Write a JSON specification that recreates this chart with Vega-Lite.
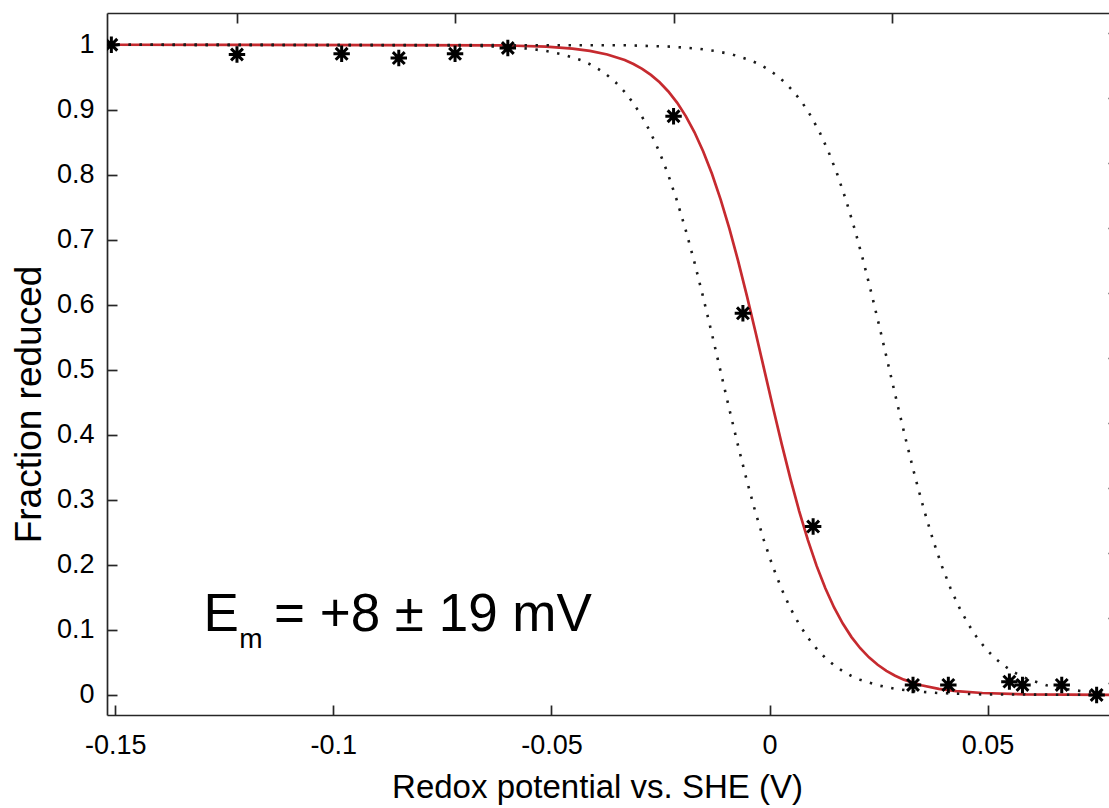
{
  "$schema": "https://vega.github.io/schema/vega-lite/v6.json",
  "width": 1011,
  "height": 702,
  "autosize": {"type": "none"},
  "padding": {"left": 107, "top": 13, "right": -9, "bottom": 93},
  "background": "white",
  "config": {
    "view": {"stroke": null},
    "font": "Liberation Sans",
    "axis": {
      "grid": false,
      "domainColor": "#262626",
      "domainWidth": 1.7,
      "tickColor": "#262626",
      "tickWidth": 1.7,
      "tickSize": -10,
      "labelColor": "black",
      "labelFont": "Liberation Sans",
      "labelFontSize": 27,
      "labelOverlap": false,
      "labelFlush": false,
      "titleFont": "Liberation Sans",
      "titleFontSize": 33,
      "titleFontWeight": "normal",
      "titleColor": "black"
    }
  },
  "datasets": {
    "red": [
      {"E": -0.152, "f": 1.0}, {"E": -0.0612, "f": 0.9991}, {"E": -0.0512, "f": 0.997}, {"E": -0.0452, "f": 0.994},
      {"E": -0.0412, "f": 0.9905}, {"E": -0.0372, "f": 0.985}, {"E": -0.0332, "f": 0.9764}, {"E": -0.0312, "f": 0.9704},
      {"E": -0.0292, "f": 0.9629}, {"E": -0.0272, "f": 0.9536}, {"E": -0.0252, "f": 0.9422}, {"E": -0.0232, "f": 0.9281},
      {"E": -0.0212, "f": 0.911}, {"E": -0.0192, "f": 0.8902}, {"E": -0.0172, "f": 0.8654}, {"E": -0.0152, "f": 0.8359},
      {"E": -0.0132, "f": 0.8015}, {"E": -0.0112, "f": 0.7618}, {"E": -0.0092, "f": 0.7171}, {"E": -0.0072, "f": 0.6677},
      {"E": -0.0052, "f": 0.6142}, {"E": -0.0032, "f": 0.5579}, {"E": -0.0012, "f": 0.5}, {"E": 0.0008, "f": 0.4421},
      {"E": 0.0028, "f": 0.3858}, {"E": 0.0048, "f": 0.3323}, {"E": 0.0068, "f": 0.2829}, {"E": 0.0088, "f": 0.2382},
      {"E": 0.0108, "f": 0.1985}, {"E": 0.0128, "f": 0.1641}, {"E": 0.0148, "f": 0.1346}, {"E": 0.0168, "f": 0.1098},
      {"E": 0.0188, "f": 0.089}, {"E": 0.0208, "f": 0.0719}, {"E": 0.0228, "f": 0.0578}, {"E": 0.0248, "f": 0.0464},
      {"E": 0.0268, "f": 0.0371}, {"E": 0.0288, "f": 0.0296}, {"E": 0.0308, "f": 0.0236}, {"E": 0.0348, "f": 0.015},
      {"E": 0.0388, "f": 0.0095}, {"E": 0.0428, "f": 0.006}, {"E": 0.0488, "f": 0.003}, {"E": 0.0588, "f": 0.0009},
      {"E": 0.08, "f": 0.0}
    ],
    "dotted": [
      {"s": "lo", "E": -0.152, "f": 1.0}, {"s": "lo", "E": -0.0713, "f": 0.9991}, {"s": "lo", "E": -0.0613, "f": 0.997},
      {"s": "lo", "E": -0.0553, "f": 0.994}, {"s": "lo", "E": -0.0513, "f": 0.9905}, {"s": "lo", "E": -0.0473, "f": 0.985},
      {"s": "lo", "E": -0.0433, "f": 0.9764}, {"s": "lo", "E": -0.0413, "f": 0.9704}, {"s": "lo", "E": -0.0393, "f": 0.9629},
      {"s": "lo", "E": -0.0373, "f": 0.9536}, {"s": "lo", "E": -0.0353, "f": 0.9422}, {"s": "lo", "E": -0.0333, "f": 0.9281},
      {"s": "lo", "E": -0.0313, "f": 0.911}, {"s": "lo", "E": -0.0293, "f": 0.8902}, {"s": "lo", "E": -0.0273, "f": 0.8654},
      {"s": "lo", "E": -0.0253, "f": 0.8359}, {"s": "lo", "E": -0.0233, "f": 0.8015}, {"s": "lo", "E": -0.0213, "f": 0.7618},
      {"s": "lo", "E": -0.0193, "f": 0.7171}, {"s": "lo", "E": -0.0173, "f": 0.6677}, {"s": "lo", "E": -0.0153, "f": 0.6142},
      {"s": "lo", "E": -0.0133, "f": 0.5579}, {"s": "lo", "E": -0.0113, "f": 0.5}, {"s": "lo", "E": -0.0093, "f": 0.4421},
      {"s": "lo", "E": -0.0073, "f": 0.3858}, {"s": "lo", "E": -0.0053, "f": 0.3323}, {"s": "lo", "E": -0.0033, "f": 0.2829},
      {"s": "lo", "E": -0.0013, "f": 0.2382}, {"s": "lo", "E": 0.0007, "f": 0.1985}, {"s": "lo", "E": 0.0027, "f": 0.1641},
      {"s": "lo", "E": 0.0047, "f": 0.1346}, {"s": "lo", "E": 0.0067, "f": 0.1098}, {"s": "lo", "E": 0.0087, "f": 0.089},
      {"s": "lo", "E": 0.0107, "f": 0.0719}, {"s": "lo", "E": 0.0127, "f": 0.0578}, {"s": "lo", "E": 0.0147, "f": 0.0464},
      {"s": "lo", "E": 0.0167, "f": 0.0371}, {"s": "lo", "E": 0.0187, "f": 0.0296}, {"s": "lo", "E": 0.0207, "f": 0.0236},
      {"s": "lo", "E": 0.0247, "f": 0.015}, {"s": "lo", "E": 0.0287, "f": 0.0095}, {"s": "lo", "E": 0.0327, "f": 0.006},
      {"s": "lo", "E": 0.0387, "f": 0.003}, {"s": "lo", "E": 0.0487, "f": 0.0009}, {"s": "lo", "E": 0.08, "f": 0.0},
      {"s": "hi", "E": -0.152, "f": 1.0}, {"s": "hi", "E": -0.0325, "f": 0.9991}, {"s": "hi", "E": -0.0225, "f": 0.997},
      {"s": "hi", "E": -0.0165, "f": 0.994}, {"s": "hi", "E": -0.0125, "f": 0.9905}, {"s": "hi", "E": -0.0085, "f": 0.985},
      {"s": "hi", "E": -0.0045, "f": 0.9764}, {"s": "hi", "E": -0.0025, "f": 0.9704}, {"s": "hi", "E": -0.0005, "f": 0.9629},
      {"s": "hi", "E": 0.0015, "f": 0.9536}, {"s": "hi", "E": 0.0035, "f": 0.9422}, {"s": "hi", "E": 0.0055, "f": 0.9281},
      {"s": "hi", "E": 0.0075, "f": 0.911}, {"s": "hi", "E": 0.0095, "f": 0.8902}, {"s": "hi", "E": 0.0115, "f": 0.8654},
      {"s": "hi", "E": 0.0135, "f": 0.8359}, {"s": "hi", "E": 0.0155, "f": 0.8015}, {"s": "hi", "E": 0.0175, "f": 0.7618},
      {"s": "hi", "E": 0.0195, "f": 0.7171}, {"s": "hi", "E": 0.0215, "f": 0.6677}, {"s": "hi", "E": 0.0235, "f": 0.6142},
      {"s": "hi", "E": 0.0255, "f": 0.5579}, {"s": "hi", "E": 0.0275, "f": 0.5}, {"s": "hi", "E": 0.0295, "f": 0.4421},
      {"s": "hi", "E": 0.0315, "f": 0.3858}, {"s": "hi", "E": 0.0335, "f": 0.3323}, {"s": "hi", "E": 0.0355, "f": 0.2829},
      {"s": "hi", "E": 0.0375, "f": 0.2382}, {"s": "hi", "E": 0.0395, "f": 0.1985}, {"s": "hi", "E": 0.0415, "f": 0.1641},
      {"s": "hi", "E": 0.0435, "f": 0.1346}, {"s": "hi", "E": 0.0455, "f": 0.1098}, {"s": "hi", "E": 0.0475, "f": 0.089},
      {"s": "hi", "E": 0.0495, "f": 0.0719}, {"s": "hi", "E": 0.0515, "f": 0.0578}, {"s": "hi", "E": 0.0535, "f": 0.0464},
      {"s": "hi", "E": 0.0555, "f": 0.0371}, {"s": "hi", "E": 0.0575, "f": 0.0296}, {"s": "hi", "E": 0.0595, "f": 0.0236},
      {"s": "hi", "E": 0.0635, "f": 0.015}, {"s": "hi", "E": 0.0675, "f": 0.0095}, {"s": "hi", "E": 0.0715, "f": 0.006},
      {"s": "hi", "E": 0.0775, "f": 0.003}, {"s": "hi", "E": 0.08, "f": 0.0022}
    ],
    "obs": [
      {"E": -0.1509, "f": 1.0}, {"E": -0.1221, "f": 0.985}, {"E": -0.0981, "f": 0.986}, {"E": -0.085, "f": 0.9795},
      {"E": -0.0721, "f": 0.986}, {"E": -0.06, "f": 0.995}, {"E": -0.022, "f": 0.89}, {"E": -0.0061, "f": 0.587},
      {"E": 0.01, "f": 0.259}, {"E": 0.0329, "f": 0.0154}, {"E": 0.041, "f": 0.0154}, {"E": 0.055, "f": 0.0205},
      {"E": 0.058, "f": 0.0154}, {"E": 0.067, "f": 0.0154}, {"E": 0.075, "f": 0.0}
    ],
    "bigtext": [
      {"E": -0.1298, "f": 0.0983, "t": "E"},
      {"E": -0.1136, "f": 0.0983, "t": "= +8 ± 19 mV"}
    ],
    "subtext": [
      {"E": -0.1216, "f": 0.0715, "t": "m"}
    ]
  },
  "layer": [
    {
      "data": {"name": "red"},
      "mark": {"type": "line", "color": "#c62a2f", "strokeWidth": 2.7, "clip": true},
      "encoding": {
        "x": {
          "field": "E", "type": "quantitative",
          "scale": {"domain": [-0.1519, 0.0799], "nice": false, "zero": false},
          "axis": {
            "orient": "bottom",
            "values": [-0.15, -0.1, -0.05, 0, 0.05],
            "labelExpr": "toString(datum.value)",
            "labelPadding": 27,
            "title": "Redox potential vs. SHE (V)",
            "titleX": 490,
            "titleY": 82,
            "titleAlign": "center",
            "titleBaseline": "alphabetic"
          }
        },
        "y": {
          "field": "f", "type": "quantitative",
          "scale": {"domain": [-0.0308, 1.0488], "nice": false, "zero": false},
          "axis": {
            "orient": "left",
            "values": [0, 0.1, 0.2, 0.3, 0.4, 0.5, 0.6, 0.7, 0.8, 0.9, 1],
            "labelExpr": "toString(datum.value)",
            "labelPadding": 23,
            "title": "Fraction reduced",
            "titleFontSize": 37,
            "titleX": -67,
            "titleY": 391,
            "titleAngle": -90,
            "titleAlign": "center",
            "titleBaseline": "alphabetic"
          }
        }
      }
    },
    {
      "data": {"name": "dotted"},
      "mark": {"type": "line", "color": "#1a1a1a", "strokeWidth": 2.6, "strokeDash": [2.4, 8.6], "clip": true},
      "encoding": {
        "detail": {"field": "s"},
        "x": {
          "field": "E", "type": "quantitative",
          "axis": {
            "orient": "top",
            "values": [-0.122, -0.072, -0.022, 0.028, 0.078],
            "labels": false,
            "title": null
          }
        },
        "y": {
          "field": "f", "type": "quantitative",
          "axis": {
            "orient": "right",
            "values": [0.0188, 0.1188, 0.2188, 0.3188, 0.4188, 0.5188, 0.6188, 0.7188, 0.8188, 0.9188, 1.0188],
            "labels": false,
            "title": null
          }
        }
      }
    },
    {
      "data": {"name": "obs"},
      "mark": {
        "type": "point",
        "shape": "M0,-1L0,1M-1,0L1,0M-0.72,-0.72L0.72,0.72M-0.72,0.72L0.72,-0.72",
        "filled": false,
        "stroke": "black",
        "strokeWidth": 3,
        "size": 270,
        "opacity": 1,
        "clip": true
      },
      "encoding": {
        "x": {"field": "E", "type": "quantitative", "axis": null},
        "y": {"field": "f", "type": "quantitative", "axis": null}
      }
    },
    {
      "data": {"name": "bigtext"},
      "mark": {"type": "text", "align": "left", "baseline": "alphabetic", "fontSize": 53, "font": "Liberation Sans", "color": "black"},
      "encoding": {
        "x": {"field": "E", "type": "quantitative", "axis": null},
        "y": {"field": "f", "type": "quantitative", "axis": null},
        "text": {"field": "t"}
      }
    },
    {
      "data": {"name": "subtext"},
      "mark": {"type": "text", "align": "left", "baseline": "alphabetic", "fontSize": 28, "font": "Liberation Sans", "color": "black"},
      "encoding": {
        "x": {"field": "E", "type": "quantitative", "axis": null},
        "y": {"field": "f", "type": "quantitative", "axis": null},
        "text": {"field": "t"}
      }
    }
  ],
  "resolve": {"axis": {"x": "independent", "y": "independent"}}
}
